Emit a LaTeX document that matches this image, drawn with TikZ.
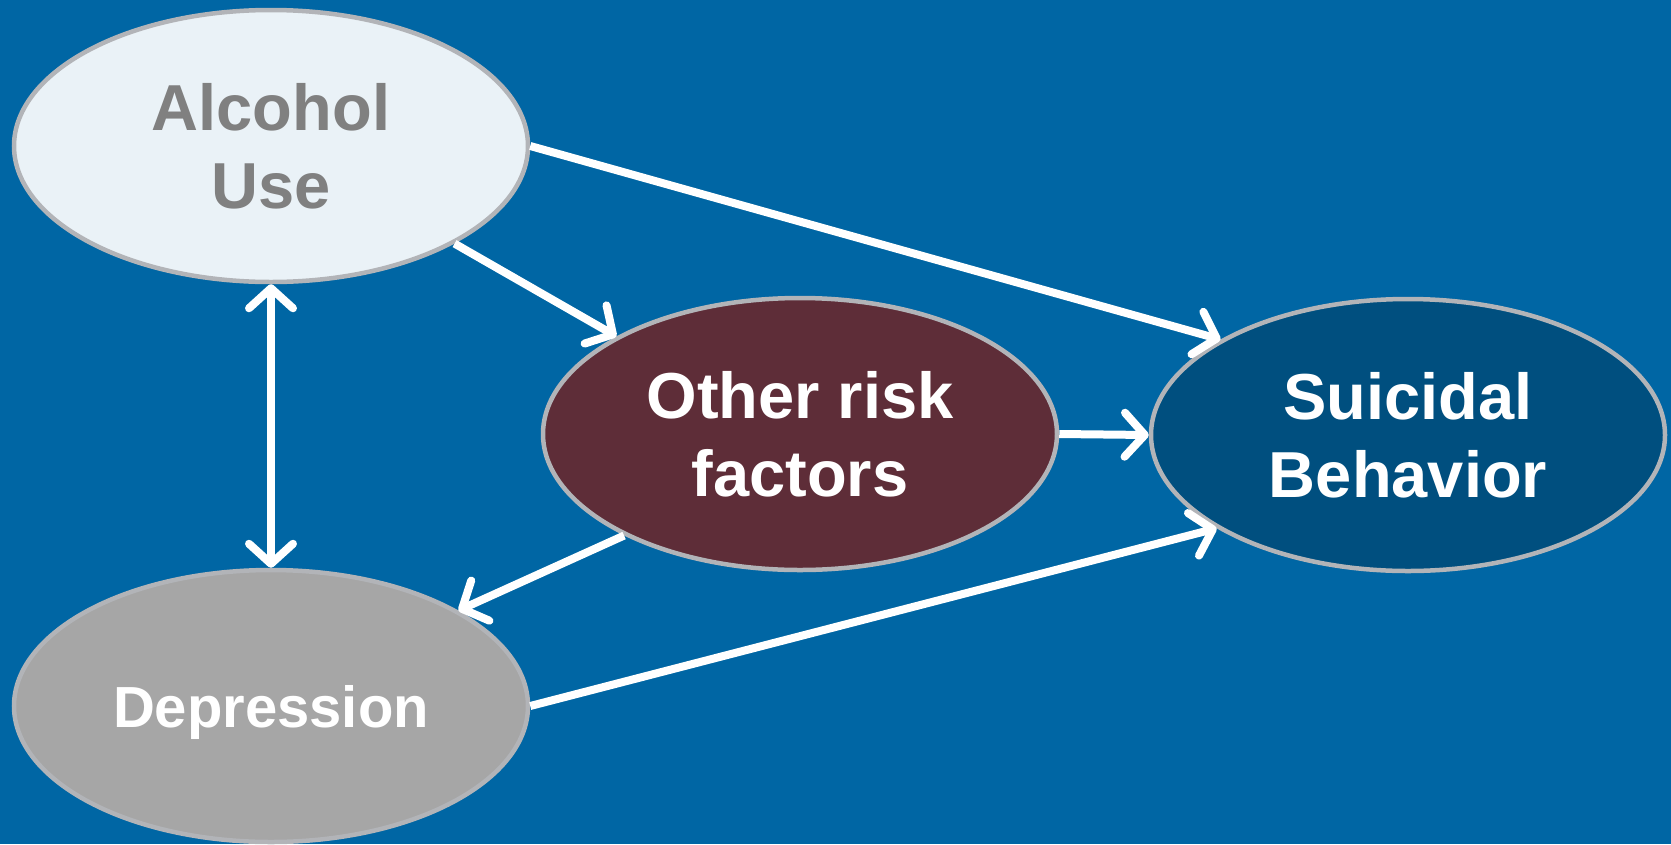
\documentclass[tikz,border=0pt]{standalone}
\usepackage{fontspec}
\setmainfont{Liberation Sans}
\usetikzlibrary{shapes.geometric,arrows.meta}
\definecolor{bgblue}{RGB}{0,102,164}
\definecolor{ovalrim}{RGB}{178,180,184}
\definecolor{alcfill}{RGB}{234,242,247}
\definecolor{alctext}{RGB}{128,128,128}
\definecolor{riskfill}{RGB}{94,45,56}
\definecolor{suifill}{RGB}{0,79,127}
\definecolor{depfill}{RGB}{166,166,166}
\begin{document}
\begin{tikzpicture}[x=1pt,y=-1pt,
    oval/.style={ellipse,draw=ovalrim,line width=4.5pt,minimum width=514pt,
        minimum height=272pt,inner sep=0pt,align=center,text=white,
        font=\fontsize{65}{78}\selectfont\bfseries},
    barb/.tip={Straight Barb[length=20pt,width=44pt,round]},
    link/.style={white,line width=8pt,-barb}]
    \useasboundingbox (0,0) rectangle (1671,844);
    \fill[bgblue] (0,0) rectangle (1671,844);
    \node[oval,fill=alcfill,text=alctext] (alc) at (271,146) {Alcohol\\Use};
    \node[oval,fill=riskfill] (risk) at (800,434) {Other risk\\factors};
    \node[oval,fill=suifill] (sui) at (1408,435) {Suicidal\\Behavior};
    \node[oval,fill=depfill,font=\fontsize{58}{70}\selectfont\bfseries,
        text depth=0pt] (dep) at (271,706) {Depression};
    % arrows
    \draw[link] (alc.east) -- (sui.153);
    \draw[link] (alc.-28) -- (risk.152);
    \draw[link] (risk.east) -- (sui.west);
    \draw[link] (risk.210) -- (dep.27);
    \draw[link] (dep.east) -- (sui.206);
    \draw[link,barb-barb] (alc.south) -- (dep.north);
\end{tikzpicture}
\end{document}
